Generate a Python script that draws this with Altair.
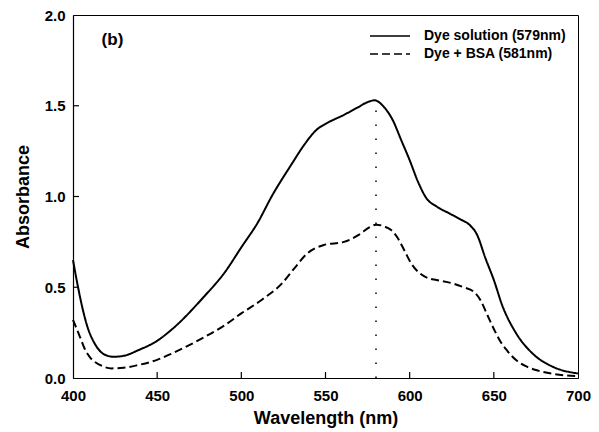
import altair as alt
import pandas as pd

FONT = "Liberation Sans"

series_names = ["Dye solution (579nm)", "Dye + BSA (581nm)"]

wl_solid = [400, 403, 406, 409, 412, 415, 418, 424, 430, 439, 450, 459, 478, 490, 500,
            510, 518, 530, 537, 545, 550, 561, 569, 575, 579, 585, 590, 595, 600, 605,
            610, 616, 624, 630, 636, 640, 645, 650, 655, 663, 673, 685, 700]
abs_solid = [0.65, 0.50, 0.37, 0.27, 0.205, 0.16, 0.133, 0.117, 0.122, 0.154, 0.205, 0.27, 0.45, 0.58, 0.72,
             0.86, 1.00, 1.18, 1.28, 1.37, 1.40, 1.45, 1.49, 1.52, 1.53, 1.49, 1.42, 1.31, 1.20, 1.08,
             0.99, 0.945, 0.905, 0.875, 0.84, 0.79, 0.66, 0.54, 0.40, 0.25, 0.135, 0.062, 0.025]

wl_bsa = [400, 404, 407, 410, 416, 423, 430, 439, 450, 459, 478, 490, 500, 512, 524,
          532, 539, 549, 561, 570, 576, 580, 585, 589, 593, 597, 601, 606, 611, 616,
          626, 632, 638, 642, 646, 650, 654, 658, 663, 669, 675, 690, 700]
abs_bsa = [0.32, 0.23, 0.16, 0.115, 0.072, 0.053, 0.056, 0.072, 0.10, 0.136, 0.225, 0.29, 0.356, 0.43, 0.52,
           0.61, 0.685, 0.733, 0.75, 0.79, 0.83, 0.845, 0.835, 0.815, 0.77, 0.70, 0.63, 0.577, 0.55, 0.54,
           0.52, 0.50, 0.476, 0.43, 0.35, 0.27, 0.20, 0.15, 0.10, 0.065, 0.044, 0.017, 0.01]

peak_wl = [580]
peak_top = [1.53]

x_ticks = [450, 500, 550, 600, 650]
y_ticks = [0.5, 1.0, 1.5]
x_labels = [400, 450, 500, 550, 600, 650, 700]
y_labels = [0.0, 0.5, 1.0, 1.5, 2.0]

panel_label = ["(b)"]
panel_x = [417]
panel_y = [1.86]

df = pd.concat([
    pd.DataFrame({"wl": wl_solid, "abs": abs_solid, "series": series_names[0]}),
    pd.DataFrame({"wl": wl_bsa, "abs": abs_bsa, "series": series_names[1]}),
])

W, H = 505, 363
xscale = alt.Scale(domain=[400, 700], nice=False, zero=False)
yscale = alt.Scale(domain=[0, 2.0], nice=False)

xaxis = alt.Axis(values=x_labels, format="d", title="Wavelength (nm)", ticks=False,
                 labelFlush=False, labelPadding=10, titlePadding=6, grid=False,
                 domainColor="black")
yaxis = alt.Axis(values=y_labels, format=".1f", title="Absorbance", ticks=False,
                 labelFlush=False, labelPadding=8, titlePadding=12, grid=False,
                 domainColor="black")

lines = alt.Chart(df).mark_line(strokeWidth=2, color="black", interpolate="monotone").encode(
    x=alt.X("wl:Q", scale=xscale, axis=xaxis),
    y=alt.Y("abs:Q", scale=yscale, axis=yaxis),
    strokeDash=alt.StrokeDash("series:N",
        scale=alt.Scale(domain=series_names, range=[[1, 0], [8, 4]]),
        legend=alt.Legend(title=None, orient="none", legendX=306, legendY=10,
                          symbolType="M-2,0H2", symbolSize=400, symbolStrokeWidth=1.5,
                          symbolStrokeColor="black", labelOffset=23, rowPadding=-2,
                          labelFont=FONT, labelFontSize=14, labelFontWeight="bold",
                          labelColor="black")),
    detail="series:N",
    order="wl:Q",
)

peak = alt.Chart(pd.DataFrame({"wl": peak_wl, "y0": [0.0], "y1": peak_top})).mark_rule(
    color="black", strokeWidth=1.5, strokeDash=[1.5, 12.5]).encode(
    x="wl:Q", y="y0:Q", y2="y1:Q")

xt = alt.Chart(pd.DataFrame({"wl": x_ticks})).mark_rule(color="black", strokeWidth=1.2).encode(
    x="wl:Q", y=alt.value(H), y2=alt.value(H - 6))
yt = alt.Chart(pd.DataFrame({"v": y_ticks})).mark_rule(color="black", strokeWidth=1.2).encode(
    y="v:Q", x=alt.value(0), x2=alt.value(6))

label = alt.Chart(pd.DataFrame({"x": panel_x, "y": panel_y, "t": panel_label})).mark_text(
    font=FONT, fontSize=17, fontWeight="bold", align="left", baseline="middle", color="black").encode(
    x="x:Q", y="y:Q", text="t:N")

chart = alt.layer(lines, peak, xt, yt, label).properties(
    width=W, height=H,
    autosize=alt.AutoSizeParams(type="none"),
    padding={"left": 65, "top": 7, "right": 13, "bottom": 50},
).configure_view(stroke="black", strokeWidth=1).configure_axis(
    labelFont=FONT, labelFontSize=15, labelFontWeight="bold", labelColor="black",
    titleFont=FONT, titleFontSize=18, titleFontWeight="bold", titleColor="black",
    domainWidth=1.2,
)

chart.save("out.html", embed_options={"renderer": "svg", "actions": False})
